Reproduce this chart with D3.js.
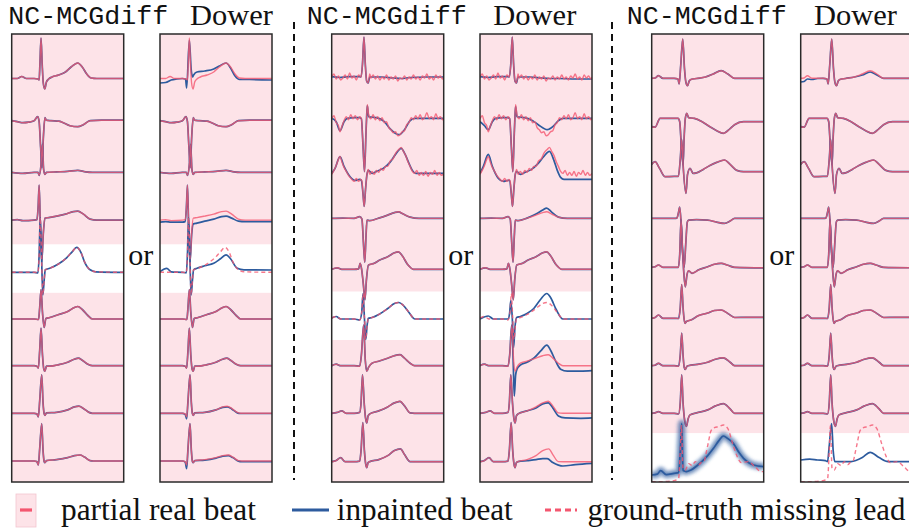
<!DOCTYPE html>
<html><head><meta charset="utf-8">
<script src="https://cdn.jsdelivr.net/npm/d3@7"></script>
<style>html,body{margin:0;padding:0;background:#fff;}svg{display:block;}</style>
</head><body>
<svg id="chart" width="909" height="530"></svg>
<script>
// ---------------- DATA (t = fraction of beat window, v = amplitude, up positive) ----------------
const methods = ["NC-MCGdiff", "Dower"];
const orLabel = "or";
const legendLabels = ["partial real beat", "inpainted beat", "ground-truth missing lead"];
const missingLead = [4, 5, 8];   // index of the masked lead in each example

// ---- Example 1 ----
const g1Real = [
  [[0,0.5],[.05,0.5],[.09,2.5],[.13,0.5],[.2,0.5],[.235,0],[.245,-1],[.252,15],[.262,41],[.272,15],[.282,-4],[.295,-10],[.31,-3],[.33,0],[.36,2],[.42,4],[.48,7],[.53,12],[.59,16],[.63,12],[.67,5],[.71,1],[.76,0.5],[1,0.5]],
  [[0,6],[.05,5],[.1,4],[.15,4.5],[.2,6],[.232,10],[.245,5],[.258,-20],[.27,-41],[.283,-10],[.297,9],[.31,6.5],[.35,6],[.42,5.5],[.46,4],[.52,1],[.59,0],[.64,2],[.7,6],[.8,6.5],[1,6.5]],
  [[0,2],[.1,1],[.2,2],[.235,2],[.245,-1],[.262,10],[.274,30],[.285,5],[.297,0],[.31,2],[.4,2.5],[.5,3],[.59,4],[.66,2.5],[.72,2],[1,2]],
  [[0,2],[.05,2.5],[.1,1.5],[.2,2],[.225,2.5],[.236,15],[.245,37],[.255,0],[.268,-40],[.283,-10],[.297,4],[.33,4.5],[.4,6],[.48,8],[.55,10.5],[.59,11],[.64,8],[.7,3],[.76,2],[1,2]],
  [[0,-2.5],[.1,-2.5],[.2,-2.5],[.235,-3],[.245,15],[.255,52],[.265,20],[.278,-25],[.29,-10],[.3,0],[.34,1.5],[.42,6],[.49,12],[.54,18],[.58,22.5],[.62,17],[.65,8],[.7,0],[.75,-2],[1,-2.5]],
  [[0,-1.5],[.1,-1.5],[.2,-1.5],[.24,-2],[.25,10],[.262,28],[.275,5],[.29,-10],[.305,-1],[.34,0],[.42,3],[.5,6],[.56,10],[.59,11],[.63,8],[.68,2],[.72,-1.5],[1,-1.5]],
  [[0,-0.5],[.1,-0.5],[.2,-0.5],[.225,-1],[.238,-3],[.25,15],[.262,37],[.275,10],[.287,-4],[.297,-6],[.31,-1],[.34,-1],[.42,0.5],[.5,3],[.56,6],[.595,7],[.63,5],[.68,1],[.72,-0.5],[1,-0.5]],
  [[0,-0.4],[.1,-0.4],[.2,-0.4],[.225,-1],[.238,-4],[.25,12],[.268,38],[.28,10],[.29,-1],[.297,-2.5],[.31,0],[.4,0.5],[.5,3],[.56,6],[.6,6.7],[.64,4.5],[.69,0.5],[.72,-0.4],[1,-0.4]],
  [[0,-0.4],[.1,-0.4],[.2,-0.4],[.225,-1],[.238,-4.4],[.25,12],[.268,37],[.28,10],[.29,-1],[.297,-2],[.31,0],[.4,1],[.5,3],[.56,5],[.61,5.6],[.65,3.5],[.7,0],[.73,-0.4],[1,-0.4]]
];
const g1NC = [null,null,null,null,null,null,null,null,null];
const g1Dower = [
  [[0,-4],[.05,-3.5],[.1,-1],[.15,0],[.2,0.5],[.228,0],[.238,-9],[.262,39],[.278,10],[.29,2],[.3,4],[.33,7],[.4,8],[.48,10],[.53,13],[.59,16],[.63,11],[.67,3],[.71,-0.5],[.8,-0.5],[1,-1]],
  null, null,
  [[0,0],[.05,0.5],[.1,0],[.2,0],[.225,0.5],[.236,15],[.245,37],[.255,0],[.268,-40],[.283,-12],[.297,-2],[.33,-1],[.4,1],[.48,3],[.55,5.5],[.59,6],[.64,4],[.7,1],[.76,0.5],[1,0.5]],
  [[0,-2],[.06,1.5],[.1,-2],[.2,-2.5],[.235,-3],[.245,15],[.255,52],[.265,20],[.278,-25],[.29,-10],[.3,0],[.33,1.5],[.4,4],[.48,6.5],[.54,11],[.59,15],[.63,11],[.69,1.5],[.75,0],[1,-0.2]],
  null, null,
  [[0,-0.4],[.1,-0.4],[.2,-0.4],[.225,-1.5],[.238,-6],[.25,12],[.268,38],[.28,10],[.29,-1],[.297,-2.5],[.31,0],[.4,0.5],[.5,3],[.56,5.5],[.6,6],[.64,4],[.69,0],[.72,-0.6],[1,-0.6]],
  [[0,-0.4],[.1,-0.4],[.2,-0.4],[.225,-1.5],[.238,-8],[.25,12],[.268,37],[.28,10],[.29,-1],[.297,-2],[.31,0],[.4,0.5],[.5,2.5],[.56,4.5],[.61,5],[.65,3],[.7,-0.5],[.73,-1],[1,-1]]
];

// ---- Example 2 ----
const g2Real = [
  [[0,2],[.02,5],[.04,0],[.06,3],[.08,-1],[.10,1],[.12,4],[.14,0],[.16,6],[.18,1],[.20,3],[.22,-1],[.24,4],[.262,2],[.275,15],[.288,42],[.3,15],[.312,-2],[.325,-4],[.34,5],[.35,1],[.37,4],[.39,0],[.41,3],[.43,-1],[.45,2],[.47,0],[.49,4],[.51,-1],[.53,2],[.55,0],[.57,3],[.59,-2],[.61,1],[.63,0],[.65,3],[.67,-1],[.69,2],[.71,0],[.73,4],[.75,0],[.77,2],[.79,-1],[.81,3],[.83,1],[.85,5],[.87,0],[.89,2],[.91,-1],[.93,4],[.95,1],[.97,3],[.99,0],[1,2]],
  [[0,8],[.02,11],[.04,4],[.06,1],[.074,-5],[.09,0],[.11,6],[.13,10],[.15,7],[.17,12],[.19,8],[.21,11],[.23,7],[.25,10],[.265,8],[.28,-20],[.293,-45],[.305,-10],[.312,10],[.318,22],[.33,12],[.35,8],[.37,12],[.39,7],[.41,10],[.43,6],[.45,9],[.47,4],[.49,5],[.51,-1],[.53,-3],[.55,-6],[.57,-5],[.59,-9],[.61,-8],[.63,-5],[.65,-4],[.67,2],[.69,4],[.71,9],[.73,7],[.75,11],[.77,8],[.79,12],[.81,7],[.83,9],[.85,14],[.87,8],[.89,10],[.91,7],[.93,13],[.95,8],[.97,10],[.99,7],[1,9]],
  [[0,0],[.02,4],[.04,9],[.06,15],[.074,18],[.09,13],[.11,7],[.13,3],[.15,-1],[.164,-3],[.18,-5],[.2,-7],[.22,-4],[.24,-7],[.26,-5],[.27,-7],[.28,-20],[.29,-32],[.302,-15],[.315,0],[.327,5],[.34,0],[.36,3],[.38,0],[.4,4],[.42,2],[.44,6],[.46,4],[.48,8],[.5,8],[.52,13],[.55,16],[.57,21],[.6,25],[.62,27],[.64,23],[.66,19],[.68,13],[.7,8],[.72,3],[.74,1],[.76,4],[.78,-1],[.8,2],[.82,-1],[.84,3],[.86,-2],[.88,2],[.9,0],[.92,4],[.94,-1],[.96,2],[.98,-1],[1,1]],
  [[0,3.7],[.1,4],[.2,3.7],[.25,5.5],[.27,3],[.283,-20],[.295,-40],[.306,-15],[.315,2],[.34,1.5],[.42,4],[.5,7],[.56,9.5],[.595,10.3],[.64,8],[.7,5],[.78,3.7],[1,3.7]],
  [[0,0.5],[.05,2],[.09,0.5],[.2,0.5],[.24,1],[.254,6.5],[.268,0],[.283,-15],[.297,-30],[.31,-10],[.328,4.8],[.38,6.5],[.43,9.8],[.5,13],[.56,17],[.595,18],[.63,14],[.68,5],[.73,0.5],[1,0.5]],
  [[0,-0.5],[.04,1],[.08,-1.5],[.2,-1.5],[.25,-2.5],[.268,5],[.28,24],[.292,0],[.304,-22],[.316,-8],[.327,-0.8],[.36,0],[.42,3],[.5,9],[.56,14],[.6,15],[.64,12],[.69,5],[.743,-1.5],[1,-1.5]],
  [[0,-0.5],[.04,1],[.08,-0.5],[.2,-0.5],[.25,-1],[.265,10],[.285,40],[.3,5],[.313,-6],[.33,-2],[.36,2],[.42,4],[.5,7],[.56,9.5],[.61,10.5],[.65,7],[.7,2],[.74,-0.5],[1,-0.5]],
  [[0,-0.4],[.05,0.5],[.09,2],[.13,-0.4],[.2,-0.4],[.25,0.5],[.262,10],[.275,38],[.29,10],[.302,-5],[.313,-10],[.325,-3],[.34,-1],[.42,2],[.5,6],[.56,10],[.61,11.6],[.65,7],[.7,0],[.74,-0.4],[1,-0.4]],
  [[0,-1.1],[.04,0],[.08,3],[.12,-1.1],[.2,-1.1],[.25,-0.5],[.262,10],[.278,38],[.292,10],[.303,-3],[.313,-7],[.325,-2],[.34,-1],[.42,1],[.5,5],[.56,10],[.614,11.7],[.65,6],[.7,-1],[.74,-1.1],[1,-1.1]]
];
const g2NC = [
  [[0,2.3],[.07,1.5],[.15,2.3],[.25,2.3],[.262,2],[.275,15],[.288,42],[.3,15],[.312,-2],[.325,-4],[.34,2],[.45,2],[.55,1],[.62,0.5],[.7,1.5],[.85,2],[1,2]],
  [[0,8.4],[.04,5],[.074,-4],[.11,5],[.14,8.4],[.2,9],[.25,9],[.265,8],[.28,-20],[.293,-45],[.305,-10],[.312,10],[.318,21],[.33,10],[.36,9.5],[.4,9],[.47,5],[.52,-2],[.6,-8],[.65,-3],[.7,6],[.74,8.4],[.85,8.4],[1,8.4]],
  [[0,1],[.03,6],[.074,17.7],[.11,8],[.164,-2.3],[.21,-6],[.25,-5],[.265,-6],[.28,-20],[.29,-32],[.302,-15],[.315,0],[.327,4],[.36,1],[.4,3],[.46,6],[.52,12],[.57,20],[.62,26],[.66,19],[.69,11],[.72,4],[.75,1],[.85,1],[1,1]],
  null, null, null, null, null, null
];
const g2Dower = [
  [[0,2.3],[.07,1.5],[.15,2.3],[.25,2.3],[.262,2],[.275,15],[.288,42],[.3,15],[.312,-2],[.325,-4],[.34,2],[.45,2],[.55,1],[.62,0.5],[.7,0.5],[.85,0],[1,0]],
  [[0,5],[.04,1],[.074,-3],[.11,5],[.14,8.4],[.2,9],[.25,9],[.265,8],[.28,-20],[.293,-45],[.305,-10],[.312,10],[.318,20],[.33,10],[.36,9.5],[.4,9],[.47,6],[.52,2],[.6,-3],[.65,0],[.7,6],[.74,8.4],[.85,8.4],[1,8.4]],
  [[0,1],[.03,8],[.074,20],[.11,8],[.164,-4],[.21,-7],[.25,-6],[.265,-6],[.28,-20],[.29,-32],[.302,-15],[.315,0],[.327,3],[.36,0],[.4,2],[.46,5],[.52,11],[.57,18],[.62,23],[.66,14],[.69,4],[.72,-3],[.75,-5],[.85,-5],[1,-5]],
  [[0,3.7],[.1,4],[.2,3.7],[.25,5.5],[.27,3],[.283,-20],[.295,-40],[.306,-15],[.315,2],[.34,1.5],[.42,4],[.5,8],[.56,12],[.595,14],[.64,10],[.7,5],[.78,3.7],[1,3.7]],
  null,
  [[0,-1.5],[.074,1.5],[.12,-1.5],[.2,-1.5],[.253,-1.5],[.265,5],[.275,17],[.288,0],[.3,-30],[.312,-10],[.327,0],[.36,1],[.42,4],[.48,9],[.54,18],[.597,24],[.63,20],[.68,8],[.74,-1.5],[1,-1.5]],
  [[0,-0.5],[.04,1],[.08,-0.5],[.2,-0.5],[.25,-1],[.265,10],[.283,40],[.296,5],[.306,-31],[.318,-10],[.33,-4],[.36,0],[.42,3],[.48,7],[.54,14],[.597,20],[.63,15],[.68,3],[.72,-4],[.78,-6],[.9,-6],[1,-5.5]],
  [[0,-0.4],[.05,0.5],[.09,2],[.13,-0.4],[.2,-0.4],[.25,0.5],[.262,10],[.275,38],[.29,10],[.302,-5],[.313,-10],[.325,-3],[.34,-1],[.42,2],[.5,5],[.56,9],[.61,10],[.65,5],[.7,-3],[.76,-5],[.9,-5.4],[1,-5]],
  [[0,-1.1],[.04,0],[.08,3],[.12,-1.1],[.2,-1.1],[.25,-0.5],[.262,10],[.278,38],[.292,10],[.303,-3],[.313,-7],[.325,-2],[.34,-1],[.42,0],[.5,1],[.56,2],[.6,2],[.65,-2],[.7,-4.5],[.74,-5.4],[.85,-4],[1,-2.7]]
];

// ---- Example 3 ----
const g3Real = [
  [[0,0.7],[.03,1],[.06,3.3],[.1,0.7],[.2,0.7],[.235,0],[.245,-5],[.26,15],[.277,40],[.293,10],[.305,-3],[.32,-6.7],[.335,-2],[.35,-0.5],[.4,0.5],[.48,2],[.55,5],[.62,8.3],[.68,5],[.74,0.7],[1,0.7]],
  [[0,0],[.03,-0.5],[.075,8.4],[.12,8.4],[.2,8.4],[.235,8.4],[.25,5],[.265,-20],[.28,-38],[.29,-10],[.3,8],[.313,13.4],[.33,9],[.38,8.4],[.45,5],[.52,0],[.58,-4],[.64,-6.6],[.7,-2],[.74,2],[.82,5],[1,5]],
  [[0,10],[.03,12.7],[.07,6],[.12,-2.3],[.2,-2],[.238,-2],[.255,15],[.268,35],[.28,10],[.306,-19],[.32,0],[.342,6],[.37,1],[.4,1.5],[.46,5],[.52,9],[.58,12],[.65,14.4],[.7,10],[.76,4],[.82,2.7],[1,2.7]],
  [[0,3.7],[.1,3.7],[.2,3.7],[.225,4],[.24,10],[.25,15],[.262,0],[.276,-30],[.29,-45],[.305,-20],[.318,0],[.33,2],[.4,2.5],[.5,2],[.58,0],[.65,-1.3],[.7,1],[.74,3.7],[1,3.7]],
  [[0,2.5],[.03,3],[.06,4.8],[.1,2.5],[.2,2.5],[.238,2.5],[.25,15],[.262,50],[.275,20],[.288,-5],[.3,-17],[.315,-5],[.33,-1],[.36,-3.5],[.42,0],[.5,3],[.56,5.5],[.62,6.5],[.68,4.5],[.74,2.5],[1,2]],
  [[0,-0.8],[.03,0],[.06,2.5],[.1,-0.8],[.2,-0.8],[.24,-1],[.255,10],[.268,33],[.28,10],[.29,-2],[.298,-5.8],[.31,-4],[.35,-2.5],[.42,2],[.5,4.5],[.56,7],[.62,7.5],[.68,4],[.74,0],[.85,0.2],[1,0.2]],
  [[0,-0.5],[.03,0],[.06,1.9],[.1,-0.5],[.2,-0.5],[.24,-1],[.255,10],[.268,32],[.28,10],[.29,-2],[.3,-4.3],[.315,-1],[.35,0],[.42,1],[.5,3],[.57,6],[.64,7.4],[.7,3],[.74,-0.5],[1,-0.5]],
  [[0,-0.4],[.03,0],[.06,1.3],[.1,-0.4],[.2,-0.4],[.24,-1],[.255,10],[.268,38],[.28,10],[.295,-8],[.31,-13.4],[.325,-6],[.342,-2],[.4,0],[.5,3],[.57,7],[.64,9.3],[.7,4],[.74,-0.4],[1,-0.4]],
  [[0,-21],[.1,-21],[.2,-20],[.24,-18],[.255,10],[.265,35],[.28,-8],[.3,-9.4],[.33,-3],[.36,-5],[.39,-1],[.42,-4],[.45,-1],[.47,0],[.485,7],[.505,17.6],[.53,30],[.56,33],[.6,34],[.64,35.6],[.68,32],[.72,18],[.76,5],[.8,-2],[.86,-1],[.92,-6],[.98,-11],[1,-11]]
];
const g3NC = [null,null,null,null,null,null,null,null,
  [[0,-14.4],[.05,-13.5],[.08,-10],[.13,-14],[.2,-12.7],[.24,-12],[.255,10],[.268,37],[.28,-10],[.31,-11],[.35,-9.4],[.43,-2.7],[.5,5],[.55,12],[.6,20],[.64,24.6],[.68,22],[.73,17],[.78,8],[.82,2.3],[.91,-4.4],[1,-6]]
];
const g3Dower = [
  [[0,-3],[.03,-2.5],[.06,0],[.1,-0.5],[.15,0.5],[.2,0.7],[.235,0],[.245,-5],[.26,15],[.277,40],[.293,10],[.305,-3],[.32,-6.7],[.335,-2],[.35,-0.5],[.4,0.5],[.48,2],[.55,4],[.62,7],[.68,4],[.74,0.7],[1,0.7]],
  null,null,null,null,null,null,null,
  [[0,0.6],[.08,1.5],[.15,0.6],[.22,0],[.24,-1],[.255,15],[.276,37],[.29,10],[.305,-1],[.32,-1],[.45,-1],[.55,3],[.62,8.3],[.7,3],[.78,-1],[.9,-1],[1,-1]]
];

const groups = [
  {real: g1Real, nc: g1NC, dower: g1Dower},
  {real: g2Real, nc: g2NC, dower: g2Dower},
  {real: g3Real, nc: g3NC, dower: g3Dower}
];

// ---------------- LAYOUT / STYLE ----------------
const W = 909, H = 530;
const svg = d3.select("#chart");
const panelLefts = [11.7, 160, 331.7, 480, 651.7, 800.7];
const panelW = 112, panelTop = 34, panelBottom = 482;
const PINK_BG = "#fde3e8", PINK = "#f4566f", BLUE = "#2d5b9e";
const leadOffset = k => 79 + 47.7 * k;
const bandTop = k => 55.5 + 47.2 * k;

const defs = svg.append("defs");
defs.append("filter").attr("id","fuzz").attr("x","-10%").attr("y","-30%").attr("width","120%").attr("height","160%")
  .append("feGaussianBlur").attr("stdDeviation", 1.6);

const line = (xs, ys) => d3.line().x(d => xs(d[0])).y(d => ys(d[1])).curve(d3.curveMonotoneX);

panelLefts.forEach((left, p) => {
  const gi = Math.floor(p / 2), method = p % 2;
  const grp = groups[gi], miss = missingLead[gi];
  const x = d3.scaleLinear().domain([0, 1]).range([left, left + panelW]);
  const cid = "clip" + p;
  defs.append("clipPath").attr("id", cid).append("rect")
    .attr("x", left).attr("y", panelTop).attr("width", panelW).attr("height", panelBottom - panelTop);
  const g = svg.append("g");
  g.append("rect").attr("x", left).attr("y", panelTop).attr("width", panelW)
    .attr("height", panelBottom - panelTop).attr("fill", PINK_BG);
  const bt = bandTop(miss);
  g.append("rect").attr("x", left).attr("y", bt).attr("width", panelW)
    .attr("height", Math.min(48.5, panelBottom - bt)).attr("fill", "#fff");
  const content = g.append("g").attr("clip-path", `url(#${cid})`);
  for (let k = 0; k < 9; k++) {
    const off = leadOffset(k);
    const y = d3.scaleLinear().domain([-60, 60]).range([off + 60, off - 60]);
    const real = grp.real[k];
    const recon = (method === 0 ? grp.nc[k] : grp.dower[k]) || (method === 0 && grp.nc[k] === null && gi === 1 && k < 3 ? real : (grp.nc[k] || real));
    const blueData = method === 0 ? (grp.nc[k] || real) : (grp.dower[k] || (grp.nc[k] || real));
    const path = line(x, y);
    if (k === miss && gi === 2 && method === 0) {
      // spread of several inpainted samples: soft thick band
      content.append("path").attr("d", path(blueData)).attr("fill","none")
        .attr("stroke", BLUE).attr("stroke-width", 9).attr("stroke-opacity", 0.35).attr("filter","url(#fuzz)");
      content.append("path").attr("d", path(blueData)).attr("fill","none")
        .attr("stroke", BLUE).attr("stroke-width", 4).attr("stroke-opacity", 0.6).attr("filter","url(#fuzz)");
    }
    content.append("path").attr("d", path(blueData)).attr("fill", "none")
      .attr("stroke", BLUE).attr("stroke-width", 1.7).attr("stroke-linejoin","round");
    const rp = content.append("path").attr("d", path(real)).attr("fill", "none")
      .attr("stroke", PINK).attr("stroke-width", 1.4).attr("stroke-opacity", 0.8).attr("stroke-linejoin","round");
    if (k === miss) rp.attr("stroke-dasharray", "4,3");
  }
  g.append("rect").attr("x", left).attr("y", panelTop).attr("width", panelW)
    .attr("height", panelBottom - panelTop).attr("fill", "none").attr("stroke", "#2a2a2a").attr("stroke-width", 1.5);
});

// Titles
const titleX = [[8.3, 190], [306.7, 493.3], [626.7, 814]];
titleX.forEach(([a, b]) => {
  svg.append("text").attr("x", a).attr("y", 24).text(methods[0])
    .attr("font-family", "'Liberation Mono', 'DejaVu Sans Mono', monospace").attr("font-size", 26.7)
    .attr("textLength", 160).attr("lengthAdjust", "spacingAndGlyphs").attr("fill", "#111");
  svg.append("text").attr("x", b).attr("y", 24.5).text(methods[1])
    .attr("font-family", "'Liberation Serif', 'Times New Roman', serif").attr("font-size", 29)
    .attr("textLength", 83).attr("lengthAdjust", "spacingAndGlyphs").attr("fill", "#111");
});
// "or"
[128.3, 448.3, 769.3].forEach(xp => {
  svg.append("text").attr("x", xp).attr("y", 265).text(orLabel)
    .attr("font-family", "'Liberation Serif', 'Times New Roman', serif").attr("font-size", 30).attr("fill", "#111");
});
// Dashed separators
[294, 612].forEach(xp => {
  svg.append("line").attr("x1", xp).attr("x2", xp).attr("y1", 22).attr("y2", 480)
    .attr("stroke", "#111").attr("stroke-width", 2).attr("stroke-dasharray", "7,5");
});

// Legend
const lg = svg.append("g");
lg.append("rect").attr("x", 16).attr("y", 494).attr("width", 20).attr("height", 33)
  .attr("fill", PINK_BG).attr("stroke", "#f3c6cf").attr("stroke-width", 0.8);
lg.append("line").attr("x1", 20).attr("x2", 32).attr("y1", 510).attr("y2", 510)
  .attr("stroke", PINK).attr("stroke-width", 3.2);
lg.append("line").attr("x1", 292).attr("x2", 329).attr("y1", 510).attr("y2", 510)
  .attr("stroke", BLUE).attr("stroke-width", 3.2);
lg.append("line").attr("x1", 545).attr("x2", 577).attr("y1", 510).attr("y2", 510)
  .attr("stroke", PINK).attr("stroke-width", 3.2).attr("stroke-dasharray", "6,4");
const legX = [61, 336.8, 587.4];
const legW = [195, 176, 318];
legendLabels.forEach((t, i) => {
  lg.append("text").attr("x", legX[i]).attr("y", 520).text(t)
    .attr("font-family", "'Liberation Serif', 'Times New Roman', serif").attr("font-size", 31)
    .attr("textLength", legW[i]).attr("lengthAdjust", "spacingAndGlyphs").attr("fill", "#111");
});
</script>
</body></html>
